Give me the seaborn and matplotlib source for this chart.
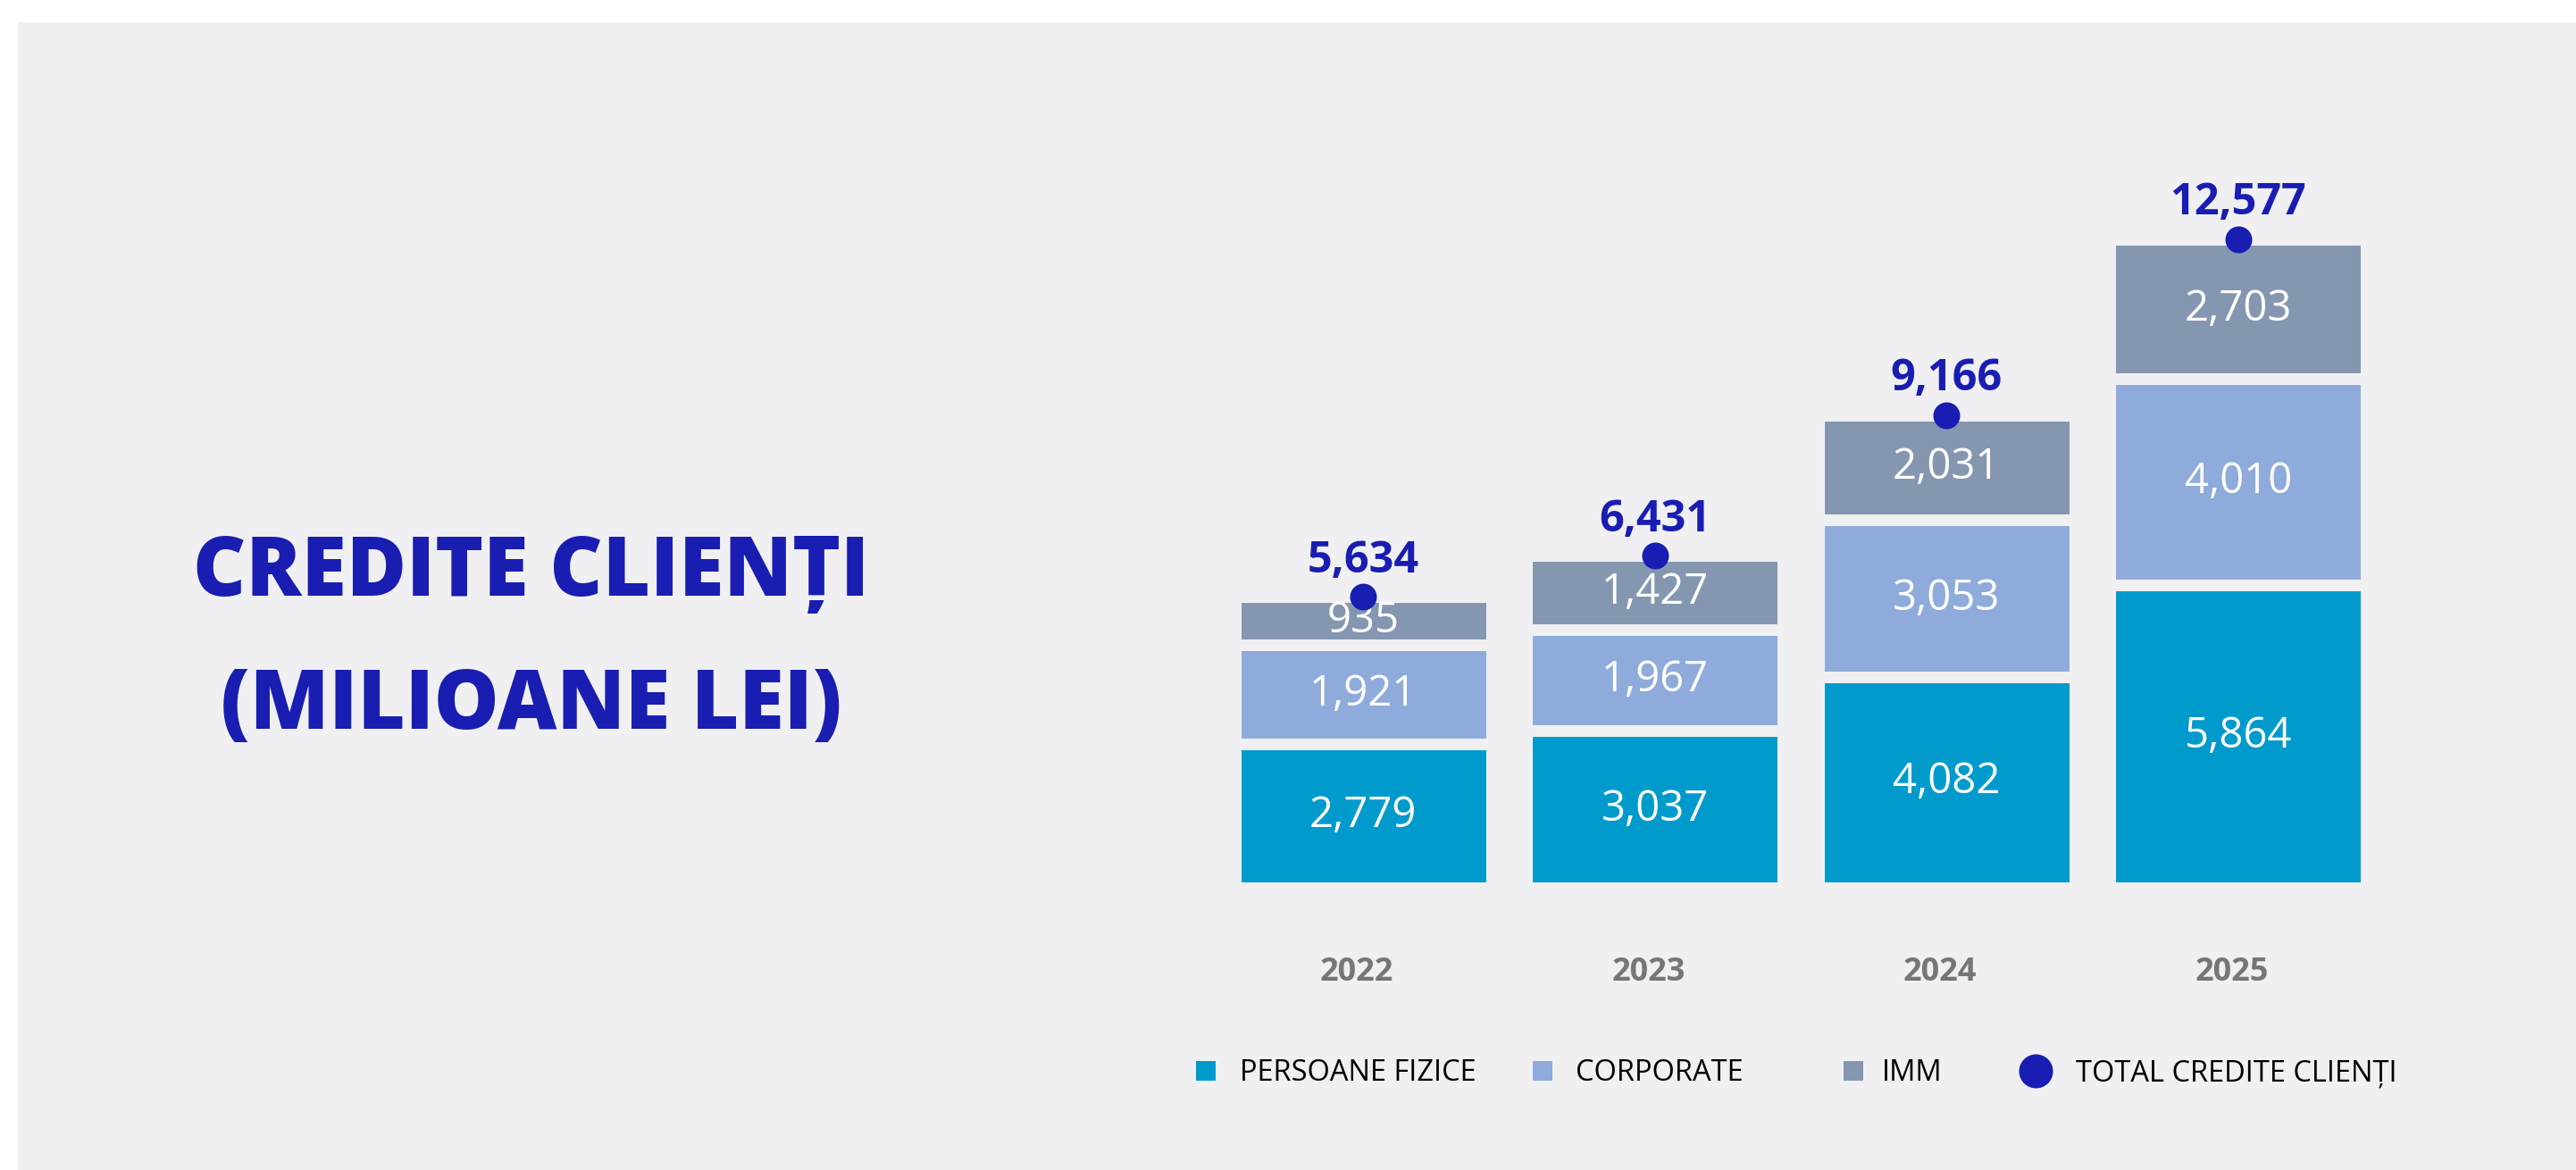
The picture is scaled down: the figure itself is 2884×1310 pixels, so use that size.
import matplotlib
matplotlib.use("Agg")
import matplotlib.pyplot as plt
from matplotlib.lines import Line2D
from matplotlib.patches import Rectangle
from matplotlib.transforms import ScaledTranslation
import pandas as pd
import seaborn as sns

# Credit portfolio by client segment, million lei
years = ["2022", "2023", "2024", "2025"]
persoane_fizice = [2779, 3037, 4082, 5864]
corporate = [1921, 1967, 3053, 4010]
imm = [935, 1427, 2031, 2703]
total_credite = [5634, 6431, 9166, 12577]

segment_names = ["PERSOANE FIZICE", "CORPORATE", "IMM"]
total_name = "TOTAL CREDITE CLIENȚI"
title_lines = ["CREDITE CLIENȚI", "(MILIOANE LEI)"]

BG = "#f0f0f2"
PF_COLOR = "#009bcc"
CORP_COLOR = "#8fabdc"
IMM_COLOR = "#8597b0"
TOTAL_COLOR = "#191db2"
YEAR_COLOR = "#767676"

sns.set_theme(style="white")
plt.rcParams["font.family"] = ["Open Sans", "DejaVu Sans"]

W, H, DPI = 2884, 1310, 100
fig = plt.figure(figsize=(W / DPI, H / DPI), dpi=DPI, facecolor="white")
fig.patches.append(Rectangle((20 / W, 0), 1 - 20 / W, 1 - 25 / H,
                             transform=fig.transFigure, facecolor=BG,
                             edgecolor="none", zorder=-5))

base_px, top_px = 993.5, 100
ax = fig.add_axes([1363 / W, (H - base_px) / H, 1306 / W, (base_px - top_px) / H])
ax.set_facecolor("none")

df = pd.DataFrame({"an": years, "pf": persoane_fizice, "corp": corporate, "imm": imm})
df["top_pf"] = df["pf"]
df["top_corp"] = df["pf"] + df["corp"]
df["top_imm"] = df["top_corp"] + df["imm"]

# Stacked bars drawn tallest first; background-coloured edges open the gaps
for col, colour in [("top_imm", IMM_COLOR), ("top_corp", CORP_COLOR), ("top_pf", PF_COLOR)]:
    sns.barplot(data=df, x="an", y=col, color=colour, saturation=1, width=0.88,
                errorbar=None, edgecolor=BG, linewidth=9.4, ax=ax, zorder=2)

# Segment value labels
for i in range(len(years)):
    bottom = 0
    for col in ["pf", "corp", "imm"]:
        v = int(df.loc[i, col])
        ax.text(i, bottom + v / 2, f"{v:,}", ha="center", va="center",
                fontsize=34, color="white", zorder=4)
        bottom += v

# Total markers and labels
sns.stripplot(x=years, y=total_credite, jitter=False, size=21.6, color=TOTAL_COLOR,
              linewidth=0, ax=ax, zorder=5)
for i, t in enumerate(total_credite):
    ax.annotate(f"{t:,}", (i, t), xytext=(0, 20), textcoords="offset points",
                ha="center", va="baseline", fontsize=35, fontweight="bold",
                color=TOTAL_COLOR, zorder=6)

ax.set_xlim(-0.5, 3.5)
ax.set_ylim(0, (base_px - top_px) / 0.0577)
ax.set_xlabel("")
ax.set_ylabel("")
ax.set_yticks([])
sns.despine(ax=ax, left=True, bottom=True)
ax.tick_params(axis="x", length=0, pad=56, labelsize=26, labelcolor=YEAR_COLOR)
shift = ScaledTranslation(-7 / DPI, 0, fig.dpi_scale_trans)
for lbl in ax.get_xticklabels():
    lbl.set_fontweight("bold")
    lbl.set_transform(lbl.get_transform() + shift)

# Title block
tx = 595 / W
fig.text(tx, 1 - 667 / H, title_lines[0], ha="center", va="baseline",
         fontsize=66, fontweight=800, color=TOTAL_COLOR)
fig.text(tx, 1 - 816 / H, title_lines[1], ha="center", va="baseline",
         fontsize=66, fontweight=800, color=TOTAL_COLOR)

# Legend entries placed individually along the bottom
legend_y = 1 - 1202 / H
entries = [
    (Line2D([], [], marker="s", linestyle="none", markersize=15.8,
            markerfacecolor=PF_COLOR, markeredgewidth=0), segment_names[0], 1334, 1.0, 0.66),
    (Line2D([], [], marker="s", linestyle="none", markersize=15.8,
            markerfacecolor=CORP_COLOR, markeredgewidth=0), segment_names[1], 1711, 1.0, 0.62),
    (Line2D([], [], marker="s", linestyle="none", markersize=15.8,
            markerfacecolor=IMM_COLOR, markeredgewidth=0), segment_names[2], 2059, 1.0, 0.47),
    (Line2D([], [], marker="o", linestyle="none", markersize=27.4,
            markerfacecolor=TOTAL_COLOR, markeredgewidth=0), total_name, 2259, 1.2, 0.8),
]
for handle, label, x_px, hlen, tpad in entries:
    fig.legend(handles=[handle], labels=[label], loc="center left",
               bbox_to_anchor=(x_px / W, legend_y), frameon=False,
               borderpad=0, borderaxespad=0, handlelength=hlen,
               handletextpad=tpad, fontsize=23.5, labelcolor="black")

fig.savefig("out.png", dpi=DPI, facecolor="white")
